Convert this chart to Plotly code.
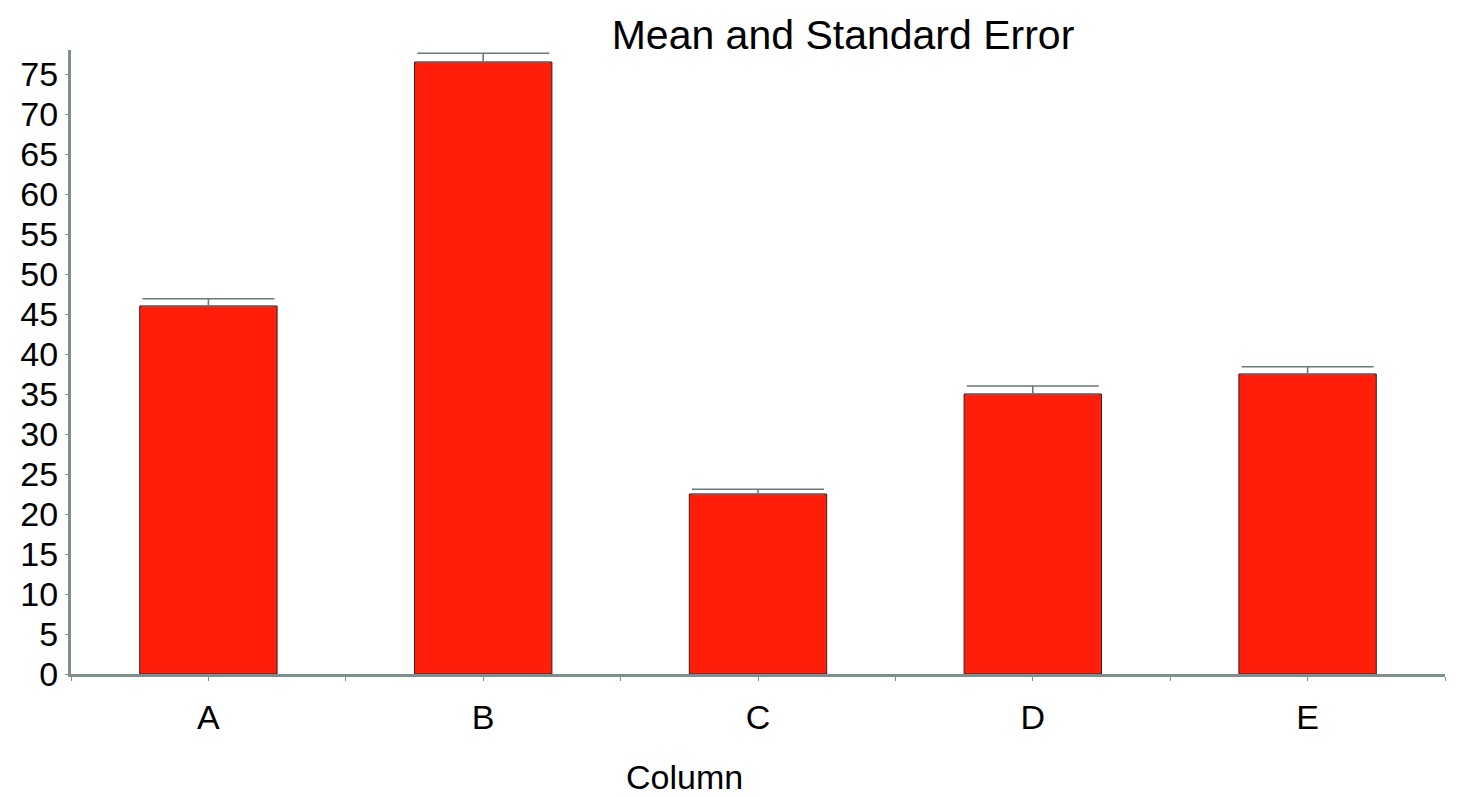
import plotly.graph_objects as go

# ------------------------------------------------------------
# Data
# ------------------------------------------------------------
categories = ['A', 'B', 'C', 'D', 'E']
means = [46.0, 76.5, 22.5, 35.0, 37.5]
std_err = [0.9, 1.1, 0.6, 1.0, 0.9]
y_ticks = list(range(0, 80, 5))

x_pos = list(range(len(categories)))

# page body has an 8px margin, so the figure is a bit smaller than the window
W, H = 1450, 789

fig = go.Figure()
fig.add_trace(go.Bar(
    x=x_pos,
    y=means,
    width=0.5,
    marker=dict(color='#ff1e0a', line=dict(color='#3a2020', width=1)),
    error_y=dict(
        type='data',
        symmetric=False,
        array=std_err,
        arrayminus=[0] * len(std_err),
        color='#687a7a',
        thickness=1.6,
        width=66,
    ),
    showlegend=False,
))

axis_col = '#7d8f8f'
fig.update_layout(
    width=W,
    height=H,
    margin=dict(l=63, r=13, t=42, b=123),
    plot_bgcolor='white',
    paper_bgcolor='white',
    font=dict(family='Liberation Sans, Arial, sans-serif', size=34, color='black'),
    title=dict(
        text='Mean and Standard Error',
        x=835 / W,
        xanchor='center',
        y=1 - 27 / H,
        yanchor='middle',
        font=dict(size=41),
    ),
)
fig.update_xaxes(
    range=[-0.5, 4.5],
    tickvals=x_pos,
    ticktext=categories,
    showgrid=False,
    zeroline=False,
    showline=True,
    linecolor=axis_col,
    linewidth=3,
    ticks='outside',
    ticklen=4,
    tickcolor=axis_col,
    ticklabelstandoff=7,
    minor=dict(dtick=0.5, tick0=-0.5, ticks='outside', ticklen=4, tickcolor=axis_col, showgrid=False),
)
fig.update_yaxes(
    range=[0, 78],
    tickvals=y_ticks,
    showgrid=False,
    zeroline=False,
    showline=True,
    linecolor=axis_col,
    linewidth=3,
    ticks='outside',
    ticklen=3,
    tickcolor=axis_col,
)
# axis title placed by hand: it sits left of the plot centre in the reference
fig.add_annotation(
    text='Column',
    xref='paper', yref='paper',
    x=(684 - 71) / 1374, y=(674 - 777) / 624,
    xanchor='center', yanchor='middle',
    showarrow=False,
    borderpad=0,
    font=dict(size=34),
)

fig.write_html('out.html')
